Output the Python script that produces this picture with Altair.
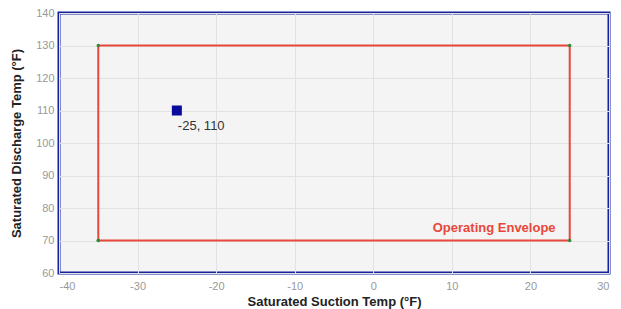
import altair as alt
import pandas as pd

# Envelope corners (closed path)
env_x = [-35, 25, 25, -35, -35]
env_y = [70, 70, 130, 130, 70]
env_order = [0, 1, 2, 3, 4]

# Operating point
pt_x = [-25]
pt_y = [110]
pt_label = ["-25, 110"]

# Envelope label
lab_x = [23.2]
lab_y = [73.8]
lab_text = ["Operating Envelope"]

x_ticks = [-40, -30, -20, -10, 0, 10, 20, 30]
y_ticks = [60, 70, 80, 90, 100, 110, 120, 130, 140]

env = pd.DataFrame({"x": env_x, "y": env_y, "o": env_order})
pt = pd.DataFrame({"x": pt_x, "y": pt_y, "label": pt_label})
lab = pd.DataFrame({"x": lab_x, "y": lab_y, "t": lab_text})

xs = alt.Scale(domain=[-40, 30], nice=False, zero=False)
ys = alt.Scale(domain=[60, 140], nice=False, zero=False)

xaxis = alt.Axis(values=x_ticks, ticks=False, domain=False, labelOverlap=False,
                 labelExpr="'' + datum.value",
                 labelColor="#999999", labelFontSize=11, labelPadding=7,
                 titleFontSize=13, titleFontWeight="bold", titleColor="#222222",
                 titlePadding=4, gridColor="#e2e2e2", labelFont="Liberation Sans",
                 titleFont="Liberation Sans")
yaxis = alt.Axis(values=y_ticks, ticks=False, domain=False, labelOverlap=False,
                 labelColor="#999999", labelFontSize=11, labelPadding=5,
                 titleFontSize=13, titleFontWeight="bold", titleColor="#222222",
                 titlePadding=12, gridColor="#e2e2e2", labelFont="Liberation Sans",
                 titleFont="Liberation Sans")


def xe():
    return alt.X("x:Q", scale=xs, title="Saturated Suction Temp (°F)", axis=xaxis)


def ye():
    return alt.Y("y:Q", scale=ys, title="Saturated Discharge Temp (°F)", axis=yaxis)


line = alt.Chart(env).mark_line(color="#e8473b", strokeWidth=2).encode(
    x=xe(), y=ye(), order="o:Q")
corners = alt.Chart(env).mark_point(filled=True, color="#2e8b3a", size=12, opacity=1).encode(
    x=xe(), y=ye())
point = alt.Chart(pt).mark_point(shape="square", filled=True, color="#0a0a9c", size=100, opacity=1).encode(
    x=xe(), y=ye())
ptext = alt.Chart(pt).mark_text(align="left", baseline="middle", dx=1, dy=15, fontSize=13,
                                color="#333333", font="Liberation Sans").encode(
    x=xe(), y=ye(), text="label:N")
ltext = alt.Chart(lab).mark_text(align="right", baseline="middle", fontSize=13, fontWeight="bold",
                                 color="#e8473b", font="Liberation Sans").encode(
    x=xe(), y=ye(), text="t:N")

chart = alt.layer(line, corners, point, ptext, ltext).properties(
    width=550, height=260,
    autosize=alt.AutoSizeParams(type="none"),
    padding={"left": 51, "top": 5, "right": 4, "bottom": 36},
).configure_view(
    fill="#f4f4f4", stroke="#14229c", strokeWidth=3
)

chart.save("out.html", embed_options={"renderer": "svg", "actions": False})
